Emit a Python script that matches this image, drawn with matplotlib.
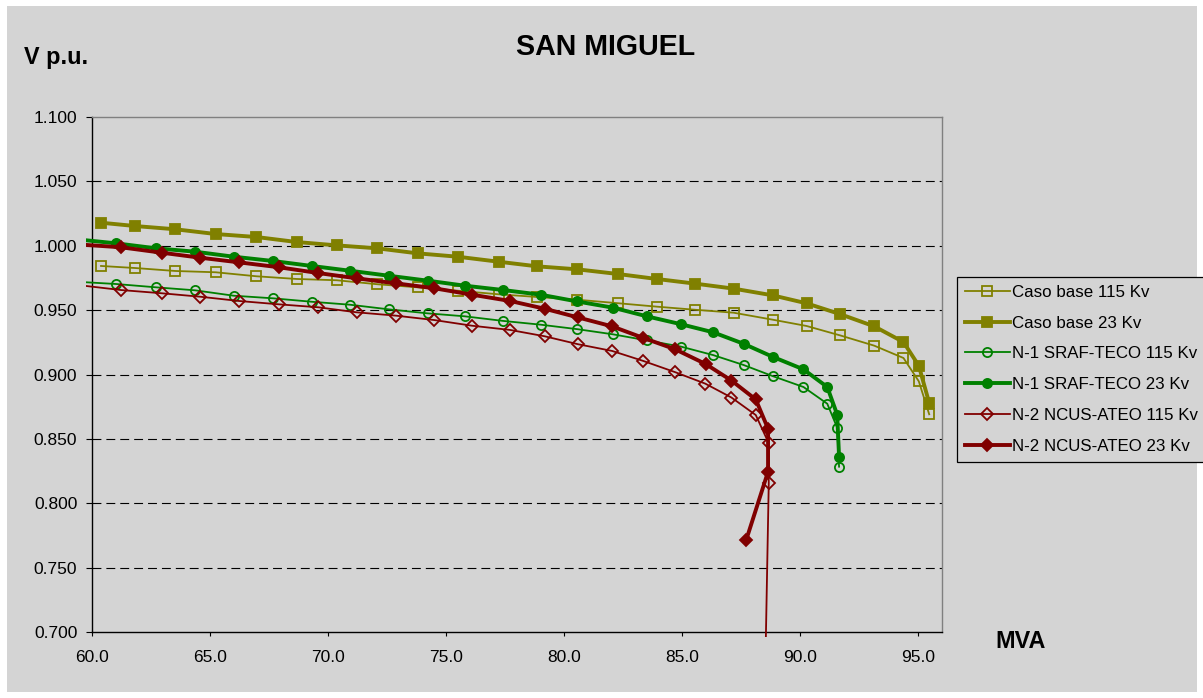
import numpy as np
import matplotlib
matplotlib.use('Agg')
import matplotlib.pyplot as plt
from matplotlib.patches import Rectangle
from matplotlib.transforms import Bbox, TransformedBbox

plt.rcParams['font.family'] = ['Liberation Sans', 'DejaVu Sans']

# MVA steps shared by the base case curves
mva_base = [60.37, 61.82, 63.52, 65.23, 66.95, 68.66, 70.36, 72.08, 73.79, 75.48,
            77.22, 78.86, 80.55, 82.26, 83.92, 85.54, 87.18, 88.83, 90.27, 91.71,
            93.14, 94.38, 95.03, 95.47]
v_base_115 = [0.9843, 0.9827, 0.9804, 0.9794, 0.9763, 0.9742, 0.9732, 0.9701, 0.9677, 0.9651,
              0.9623, 0.9602, 0.9581, 0.9554, 0.9527, 0.9503, 0.9480, 0.9426, 0.9377, 0.9303,
              0.9224, 0.9128, 0.8947, 0.8691]
v_base_23 = [1.0179, 1.0153, 1.0128, 1.0091, 1.0068, 1.0029, 1.0003, 0.9980, 0.9941, 0.9915,
             0.9876, 0.9840, 0.9817, 0.9781, 0.9742, 0.9706, 0.9667, 0.9615, 0.9553, 0.9468,
             0.9374, 0.9252, 0.9068, 0.8779]

# N-1 SRAF-TECO contingency
mva_n1 = [59.76, 61.00, 62.71, 64.35, 65.99, 67.64, 69.30, 70.92, 72.57, 74.21,
          75.78, 77.42, 79.00, 80.56, 82.07, 83.50, 84.94, 86.31, 87.60, 88.83,
          90.14, 91.15, 91.57, 91.65]
v_n1_115 = [0.9716, 0.9703, 0.9677, 0.9654, 0.9612, 0.9592, 0.9565, 0.9542, 0.9506, 0.9475,
            0.9452, 0.9416, 0.9387, 0.9352, 0.9312, 0.9265, 0.9217, 0.9151, 0.9074, 0.8988,
            0.8903, 0.8773, 0.8587, 0.8284]
v_n1_23 = [1.0042, 1.0019, 0.9980, 0.9954, 0.9915, 0.9882, 0.9843, 0.9806, 0.9767, 0.9729,
           0.9690, 0.9656, 0.9620, 0.9567, 0.9519, 0.9452, 0.9391, 0.9328, 0.9239, 0.9138,
           0.9040, 0.8903, 0.8689, 0.8362]

# N-2 NCUS-ATEO contingency
mva_n2_115 = [59.76, 61.22, 62.94, 64.58, 66.22, 67.91, 69.58, 71.20, 72.87, 74.49,
              76.09, 77.71, 79.17, 80.59, 82.03, 83.34, 84.69, 85.98, 87.09, 88.12,
              88.66, 88.67, 88.45]
v_n2_115 = [0.9687, 0.9656, 0.9631, 0.9604, 0.9571, 0.9545, 0.9522, 0.9483, 0.9457, 0.9423,
            0.9379, 0.9346, 0.9297, 0.9235, 0.9183, 0.9106, 0.9019, 0.8929, 0.8821, 0.8685,
            0.8470, 0.8155, 0.6000]
mva_n2_23 = [59.76, 61.22, 62.94, 64.58, 66.22, 67.91, 69.58, 71.20, 72.87, 74.49,
             76.09, 77.71, 79.17, 80.59, 82.03, 83.34, 84.69, 85.99, 87.09, 88.12,
             88.64, 88.64, 87.71]
v_n2_23 = [1.0006, 0.9988, 0.9946, 0.9907, 0.9871, 0.9833, 0.9788, 0.9747, 0.9708, 0.9670,
           0.9620, 0.9571, 0.9511, 0.9443, 0.9374, 0.9285, 0.9197, 0.9082, 0.8953, 0.8806,
           0.8579, 0.8245, 0.7712]

OLIVE = '#808000'
GREEN = '#008000'
DRED = '#800000'
BG = '#d4d4d4'

W, H = 1203, 698
fig = plt.figure(figsize=(W / 100, H / 100), dpi=100, facecolor='white')
fig.patches.append(Rectangle((7 / W, 6 / H), 1190 / W, 686 / H, transform=fig.transFigure,
                             facecolor=BG, edgecolor='none', zorder=-5))

ax = fig.add_axes([92.3 / W, (H - 632) / H, (941.7 - 92.3) / W, (632 - 117) / H])
ax.set_facecolor(BG)

thin = 1.3
thick = 2.8
ms = 6.6

series = [
    (mva_base, v_base_115, 's', OLIVE, thin, False, 'Caso base 115 Kv'),
    (mva_base, v_base_23, 's', OLIVE, thick, True, 'Caso base 23 Kv'),
    (mva_n1, v_n1_115, 'o', GREEN, thin, False, 'N-1 SRAF-TECO 115 Kv'),
    (mva_n1, v_n1_23, 'o', GREEN, thick, True, 'N-1 SRAF-TECO 23 Kv'),
    (mva_n2_115, v_n2_115, 'D', DRED, thin, False, 'N-2 NCUS-ATEO 115 Kv'),
    (mva_n2_23, v_n2_23, 'D', DRED, thick, True, 'N-2 NCUS-ATEO 23 Kv'),
]

# lines may run a few pixels past the left and bottom axes
clip = TransformedBbox(Bbox([[-6 / 849.4, -5 / 515], [1, 1]]), ax.transAxes)

for i, (x, y, mk, col, lw, filled, lab) in enumerate(series):
    x = np.asarray(x)
    y = np.asarray(y)
    # first points left of 60 MVA carry no visible marker
    shown = [k for k in range(len(x)) if 60 <= x[k] and y[k] >= 0.7]
    line, = ax.plot(x, y, color=col, lw=lw, marker=mk,
                    markersize=ms if mk != 'D' else ms * 0.95,
                    markerfacecolor=col if filled else 'none',
                    markeredgecolor=col, markeredgewidth=1.3,
                    markevery=shown, label=lab, zorder=3 + i)
    line.set_clip_path(None)
    line.set_clip_box(clip)
    line.set_clip_on(True)

ax.set_xlim(60, 96)
ax.set_ylim(0.7, 1.1)
ax.set_xticks(np.arange(60, 96, 5))
ax.set_yticks(np.arange(0.7, 1.1001, 0.05))
ax.xaxis.set_major_formatter(matplotlib.ticker.FormatStrFormatter('%.1f'))
ax.yaxis.set_major_formatter(matplotlib.ticker.FormatStrFormatter('%.3f'))

for yv in np.arange(0.75, 1.0501, 0.05):
    ax.axhline(yv, color='black', lw=0.8, dashes=(8, 4.5), zorder=1)

for s in ['left', 'bottom']:
    ax.spines[s].set_color('black')
    ax.spines[s].set_linewidth(1.0)
for s in ['top', 'right']:
    ax.spines[s].set_color('#808080')
    ax.spines[s].set_linewidth(1.0)

ax.tick_params(axis='y', direction='out', length=4.3, width=0.8, pad=6.5,
               labelsize=12.5, colors='black')
ax.tick_params(axis='x', direction='out', length=3.0, width=0.8, pad=10,
               labelsize=12.5, colors='black')

fig.text(606 / W, 1 - 55 / H, 'SAN MIGUEL', ha='center', va='baseline',
         fontsize=20.6, fontweight='bold')
fig.text(23.5 / W, 1 - 64.3 / H, 'V p.u.', ha='left', va='baseline',
         fontsize=16.8, fontweight='bold')
fig.text(995 / W, 1 - 648.3 / H, 'MVA', ha='left', va='baseline',
         fontsize=16.8, fontweight='bold')

leg = ax.legend(loc='upper left', bbox_to_anchor=(956.7 / W, 1 - 276.7 / H),
                bbox_transform=fig.transFigure, borderaxespad=0, fontsize=12.2,
                frameon=True, fancybox=False, shadow=False, handlelength=2.65,
                handletextpad=0.12, labelspacing=0.93, borderpad=0.48, numpoints=1)
frame = leg.get_frame()
frame.set_facecolor(BG)
frame.set_edgecolor('black')
frame.set_linewidth(0.9)
frame.set_alpha(1)

fig.savefig('out.png', dpi=100, facecolor='white')
